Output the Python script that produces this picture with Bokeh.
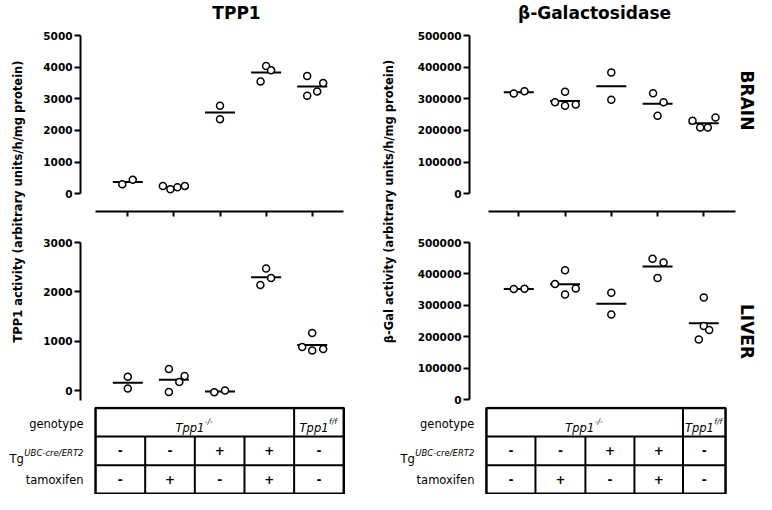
import numpy as np
from bokeh.plotting import figure
from bokeh.layouts import row, column
from bokeh.models import Range1d, FixedTicker, NumeralTickFormatter, LinearAxis
from bokeh.embed import file_html
from bokeh.resources import INLINE
from bokeh.core.properties import value

# ---------------- data ----------------
groups = [1, 2, 3, 4, 5]

tpp1_brain = [[300, 440], [250, 142, 206, 250], [2780, 2358],
              [4035, 3900, 3550], [3718, 3497, 3234, 3098]]
tpp1_liver = [[283, 47], [439, 297, 176, -26], [-30, 5],
              [2476, 2281, 2140], [1168, 885, 816, 844]]
gal_brain = [[316800, 324000], [322200, 289300, 278000, 282000], [383100, 296900],
             [317800, 289300, 246400], [230600, 241000, 209400, 209400]]
gal_liver = [[351600, 352500], [412000, 367500, 353500, 334400], [339800, 270700],
             [448100, 436300, 386600], [324800, 233800, 221000, 191100]]

tpp1_brain_ticks = [0, 1000, 2000, 3000, 4000, 5000]
tpp1_liver_ticks = [0, 1000, 2000, 3000]
gal_ticks = [0, 100000, 200000, 300000, 400000, 500000]

titles = ["TPP1", "\u03b2-Galactosidase"]
ylabels = ["TPP1 activity (arbitrary units/h/mg protein)",
           "\u03b2-Gal activity (arbitrary units/h/mg protein)"]
tissues = ["BRAIN", "LIVER"]

genotype_base = ["Tpp1", "Tpp1"]
genotype_sup = ["-/-", "f/f"]
tg_row = ["-", "-", "+", "+", "-"]
tam_row = ["-", "+", "-", "+", "-"]
row_labels = ["genotype", "Tg", "tamoxifen"]
tg_sup = "UBC-cre/ERT2"

# ---------------- layout / style (pixels) ----------------
# horizontal jitter of points, in screen pixels
dx_tpp1_brain = [[-5.5, 5], [-11, -3.5, 3.5, 11], [0, 0], [0, 5, -5.5], [-5, 11, 5, -5]]
dx_tpp1_liver = [[0, 0], [-5, 10.7, 5.4, -5], [-5.7, 5], [0, 5, -5.7], [0, -10, 0, 11]]
dx_gal_brain = [[-5, 5.7], [0, -10, 0, 10.7], [0, 0], [-4.5, 6, 0], [-11.3, 11.7, -3.6, 4]]
dx_gal_liver = [[-5, 5.7], [0, -10, 10.7, 0], [0, 0], [-5, 6, 0], [0, 0, 5.4, -5]]

FONT = "DejaVu Sans"
TICK_FS = "10.5px"

CW = {"T": .611, "p": .635, "1": .636, "-": .361, "/": .337, "f": .352, "g": .635,
      "U": .732, "B": .686, "C": .698, "c": .550, "r": .411, "e": .615, "E": .632,
      "R": .695, "2": .636}


def tw(s, size):
    return sum(CW.get(c, 0.6) for c in s) * size


def base_fig(w, h, xr, yr, **kw):
    p = figure(width=w, height=h, x_range=xr, y_range=yr, output_backend="svg",
               toolbar_location=None, x_axis_location=None, y_axis_location=None, **kw)
    p.outline_line_color = None
    p.background_fill_color = "white"
    p.border_fill_color = "white"
    p.grid.grid_line_color = None
    p.grid.visible = False
    return p


def xrange(frame_left_page, frame_w, cat1_page, s):
    start = 1 - (cat1_page - frame_left_page) / s
    return Range1d(start, start + frame_w / s)


def yrange(top_px, zero_px, bottom_px, top_val):
    ppu = (zero_px - top_px) / top_val
    return Range1d(-(bottom_px - zero_px) / ppu, top_val)


def panel(w, h, mb, xr, yr, vals, dxs, s, ticks, ybounds, xbounds=None):
    p = base_fig(w, h, xr, yr, min_border_left=mb[0], min_border_right=mb[1],
                 min_border_top=mb[2], min_border_bottom=mb[3])
    ya = LinearAxis(bounds=ybounds, ticker=FixedTicker(ticks=ticks),
                    formatter=NumeralTickFormatter(format="0"),
                    axis_line_width=2, axis_line_color="black",
                    major_tick_line_width=2, major_tick_out=6, major_tick_in=0,
                    minor_tick_line_color=None,
                    major_label_text_font=FONT, major_label_text_font_style="bold",
                    major_label_text_font_size=TICK_FS, major_label_text_color="black",
                    major_label_standoff=2)
    p.add_layout(ya, "left")
    if xbounds is not None:
        xa = LinearAxis(bounds=xbounds, ticker=FixedTicker(ticks=groups),
                        major_label_overrides={g: "" for g in groups},
                        major_label_text_font_size="0px", major_label_standoff=0,
                        axis_line_width=2, axis_line_color="black",
                        major_tick_line_width=2, major_tick_out=5, major_tick_in=0,
                        minor_tick_line_color=None)
        p.add_layout(xa, "below")
    hw = 15.0 / s
    means = [float(np.mean(v)) for v in vals]
    p.segment(x0=[g - hw for g in groups], x1=[g + hw for g in groups],
              y0=means, y1=means, line_color="black", line_width=2)
    xs = [g + d / s for g, dx in zip(groups, dxs) for d in dx]
    ys = [y for v in vals for y in v]
    p.scatter(xs, ys, size=7, marker="circle", fill_color="white",
              line_color="black", line_width=1.5)
    return p


def table(w, h, xr, edges):
    p = base_fig(w, h, xr, Range1d(h, 0), min_border=0)
    top, rh = 1.5, 28.6
    bottom = top + 3 * rh
    ys = [top + i * rh for i in range(4)]
    rc = [top + (i + 0.5) * rh for i in range(3)]
    p.quad(left=[edges[0]], right=[edges[-1]], top=[top], bottom=[bottom],
           fill_color=None, line_color="black", line_width=2.5)
    p.segment(x0=[edges[0]] * 2, x1=[edges[-1]] * 2, y0=ys[1:3], y1=ys[1:3],
              line_color="black", line_width=2)
    p.segment(x0=edges[1:5], x1=edges[1:5], y0=[ys[1]] * 4, y1=[bottom] * 4,
              line_color="black", line_width=2)
    p.segment(x0=[edges[4]], x1=[edges[4]], y0=[top], y1=[ys[1]],
              line_color="black", line_width=2)
    cx = [(edges[i] + edges[i + 1]) / 2 for i in range(5)]
    common = dict(text_font=value(FONT), text_color="black")
    p.text(x=cx, y=[rc[1]] * 5, text=tg_row, text_align="center", text_baseline="middle",
           text_font_size="12px", text_font_style="bold", **common)
    p.text(x=cx, y=[rc[2]] * 5, text=tam_row, text_align="center", text_baseline="middle",
           text_font_size="12px", text_font_style="bold", **common)
    # genotype row
    gcx = [(edges[0] + edges[4]) / 2, (edges[4] + edges[5]) / 2]
    offs = []
    for b, sp in zip(genotype_base, genotype_sup):
        bw, sw = tw(b, 11.5), tw(sp, 7.5) + 2
        offs.append(-(bw + sw) / 2 + bw)
    p.text(x=gcx, y=[rc[0]] * 2, text=genotype_base, x_offset=offs, y_offset=5.5,
           text_align="right", text_baseline="alphabetic", text_font_size="11.5px",
           text_font_style="italic", **common)
    p.text(x=gcx, y=[rc[0]] * 2, text=genotype_sup, x_offset=[o + 0.5 for o in offs], y_offset=-1,
           text_align="left", text_baseline="alphabetic", text_font_size="7.5px",
           text_font_style="italic", **common)
    # row labels
    p.text(x=[edges[0]], y=[rc[0]], text=[row_labels[0]], x_offset=-12, y_offset=2,
           text_align="right", text_baseline="middle", text_font_size="11.5px", **common)
    p.text(x=[edges[0]], y=[rc[2]], text=[row_labels[2]], x_offset=-12,
           text_align="right", text_baseline="middle", text_font_size="11.5px", **common)
    sw = tw(tg_sup, 8.5)
    p.text(x=[edges[0]], y=[rc[1]], text=[tg_sup], x_offset=-12, y_offset=2,
           text_align="right", text_baseline="alphabetic", text_font_size="8.5px",
           text_font_style="italic", **common)
    p.text(x=[edges[0]], y=[rc[1]], text=[row_labels[1]], x_offset=-12 - sw - 0.5, y_offset=8,
           text_align="right", text_baseline="alphabetic", text_font_size="11.5px", **common)
    return p


# column geometry (layout pixels)
SA, CA = 46.1, 127.3    # TPP1: category spacing, first category position
SB, CB = 46.25, 518.3   # beta-Gal
LAB_A, LAB_B, RIGHT_W = 30, 18, 20
WA, MLA, MRA = 350, 50, 34
WB, MLB, MRB = 338, 71, 0
FA_LEFT = LAB_A + MLA
FB_LEFT = LAB_A + WA + LAB_B + MLB
FWA = WA - MLA - MRA
FWB = WB - MLB - MRB

TITLE_H = 24
BRAIN_H, LIVER_H = 197, 185
TABLE_H = 494 - TITLE_H - BRAIN_H - LIVER_H

# brain: frame y 35..211 ; liver: frame y 242..401
brainA = panel(WA, BRAIN_H, (MLA, MRA, 11, 10), xrange(FA_LEFT, FWA, CA, SA),
               yrange(35, 193.3, 211, 5000), tpp1_brain, dx_tpp1_brain, SA,
               tpp1_brain_ticks, (0, 5000), (0.30, 5.68))
liverA = panel(WA, LIVER_H, (MLA, MRA, 21, 5), xrange(FA_LEFT, FWA, CA, SA),
               yrange(242, 390.3, 401, 3000), tpp1_liver, dx_tpp1_liver, SA,
               tpp1_liver_ticks, (-200, 3000))
brainB = panel(WB, BRAIN_H, (MLB, MRB, 11, 10), xrange(FB_LEFT, FWB, CB, SB),
               yrange(35, 193.3, 211, 500000), gal_brain, dx_gal_brain, SB,
               gal_ticks, (0, 500000), (0.35, 5.685))
liverB = panel(WB, LIVER_H, (MLB, MRB, 21, 5), xrange(FB_LEFT, FWB, CB, SB),
               yrange(242, 399, 401, 500000), gal_liver, dx_gal_liver, SB,
               gal_ticks, (0, 500000))

# shared y labels
HM = BRAIN_H + LIVER_H
labA = base_fig(LAB_A, HM, Range1d(0, LAB_A), Range1d(HM, 0), min_border=0)
labA.text(x=[17.5], y=[201 - TITLE_H], text=[ylabels[0]], angle=np.pi / 2, text_align="center",
          text_baseline="middle", text_font=value(FONT), text_font_style="bold",
          text_font_size="11.5px", text_color="black")
labB = base_fig(LAB_B, HM, Range1d(0, LAB_B), Range1d(HM, 0), min_border=0)
labB.text(x=[8.5], y=[201 - TITLE_H], text=[ylabels[1]], angle=np.pi / 2, text_align="center",
          text_baseline="middle", text_font=value(FONT), text_font_style="bold",
          text_font_size="11.5px", text_color="black")

# tissue labels on the right
right = base_fig(RIGHT_W, HM, Range1d(0, RIGHT_W), Range1d(HM, 0), min_border=0)
right.text(x=[10.5, 10.5], y=[100 - TITLE_H, 331 - TITLE_H], text=tissues, angle=-np.pi / 2,
           text_align="center", text_baseline="middle", text_font=value(FONT),
           text_font_style="bold", text_font_size="17px", text_color="black")

# titles
tfig = base_fig(756, TITLE_H, Range1d(0, 756), Range1d(TITLE_H, 0), min_border=0)
tfig.text(x=[236, 594], y=[12.5, 12.5], text=titles, text_align="center", text_baseline="middle",
          text_font=value(FONT), text_font_style="bold", text_font_size="17px",
          text_color="black")

# tables
edgesA = [0.30, 1.377, 2.454, 3.531, 4.608, 5.685]
edgesB = [0.30, 1.36, 2.44, 3.50, 4.55, 5.47]
WTA = LAB_A + WA
WTB = 756 - WTA
tabA = table(WTA, TABLE_H, xrange(0, WTA, CA, SA), edgesA)
tabB = table(WTB, TABLE_H, xrange(WTA, WTB, CB, SB), edgesB)

layout = column(
    tfig,
    row(labA, column(brainA, liverA), labB, column(brainB, liverB), right),
    row(tabA, tabB),
)

open("out.html", "w").write(file_html(layout, INLINE))
